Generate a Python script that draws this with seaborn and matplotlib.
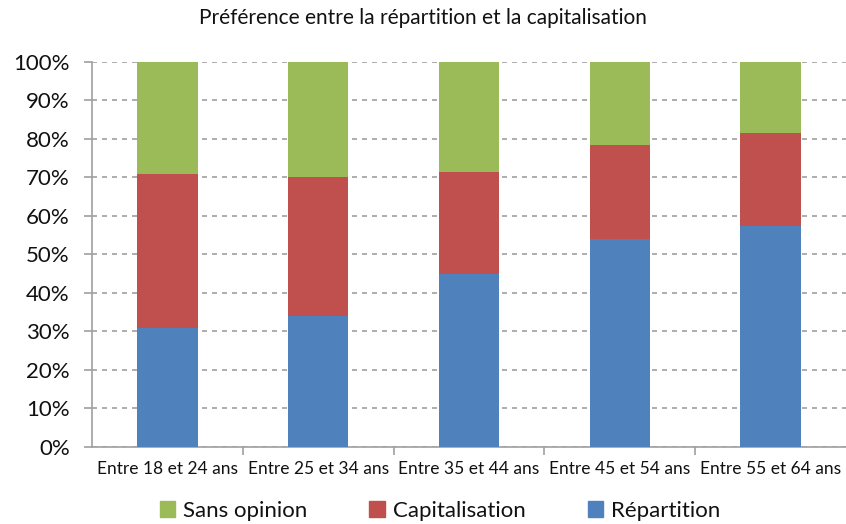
import matplotlib
matplotlib.use("Agg")
import matplotlib.pyplot as plt
import matplotlib.ticker as mticker
from matplotlib.patches import Patch
import seaborn as sns
import pandas as pd
import numpy as np

categories = ["Entre 18 et 24 ans", "Entre 25 et 34 ans", "Entre 35 et 44 ans",
              "Entre 45 et 54 ans", "Entre 55 et 64 ans"]
repartition = [31, 34, 45, 54, 57.5]
capitalisation = [40, 36, 26.5, 24.5, 24]
sans_opinion = [29, 30, 28.5, 21.5, 18.5]

series_names = ["Répartition", "Capitalisation", "Sans opinion"]
colors = {"Répartition": "#4F81BD", "Capitalisation": "#C0504D", "Sans opinion": "#9BBB59"}

sns.set_style("white")
plt.rcParams['font.family'] = ['Lato', 'DejaVu Sans']

fig = plt.figure(figsize=(8.46, 5.24), dpi=100)
ax = fig.add_axes([0.1087, 0.147, 0.8913, 0.735])

df = pd.DataFrame({"cat": categories, "Répartition": repartition,
                   "Capitalisation": capitalisation, "Sans opinion": sans_opinion})
bottom = np.zeros(len(categories))
for name in series_names:
    sns.barplot(data=df, x="cat", y=name, color=colors[name], bottom=bottom,
                width=0.4, ax=ax, saturation=1, zorder=3, linewidth=0, edgecolor="none")
    bottom = bottom + np.array(df[name])

ax.set_xlim(-0.5, 4.5)
ax.set_ylim(0, 100)
ax.set_xlabel("")
ax.set_ylabel("")
ax.yaxis.set_major_locator(mticker.MultipleLocator(10))
ax.yaxis.set_major_formatter(mticker.FuncFormatter(lambda v, p: f"{int(round(v))}%"))
ax.grid(axis="y", color="#A0A0A0", linestyle=(0, (3, 3)), linewidth=1.2, zorder=0)
ax.set_axisbelow(True)

for s in ["top", "right"]:
    ax.spines[s].set_visible(False)
for s in ["left", "bottom"]:
    ax.spines[s].set_color("#A0A0A0")
    ax.spines[s].set_linewidth(1.2)

ax.tick_params(axis="y", which="major", length=6, width=1.2, color="#A0A0A0",
               labelsize=16, labelcolor="#111111", pad=10, left=True)
ax.set_xticks(range(len(categories)))
ax.set_xticklabels(categories)
ax.tick_params(axis="x", which="major", length=0, labelsize=12.5, labelcolor="#111111", pad=10)
ax.set_xticks(np.arange(0.5, len(categories) - 0.5, 1), minor=True)
ax.tick_params(axis="x", which="minor", length=6, width=1.2, color="#A0A0A0", bottom=True)

fig.text(0.5, 0.965, "Préférence entre la répartition et la capitalisation",
         ha="center", va="center", fontsize=15, color="#111111")

handles = [Patch(color=colors[n], label=n) for n in ["Sans opinion", "Capitalisation", "Répartition"]]
fig.legend(handles=handles, loc="center", bbox_to_anchor=(0.52, 0.025), ncol=3,
           frameon=False, fontsize=16, handlelength=0.7, handleheight=0.7,
           handletextpad=0.35, columnspacing=2.8, labelcolor="#111111")

fig.savefig("out.png", dpi=100)
